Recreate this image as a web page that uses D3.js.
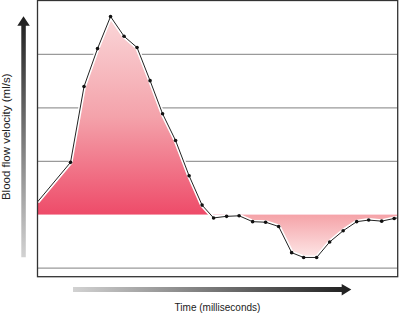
<meta charset="utf-8">
<style>
	body { margin: 0; background: #fff; }
	text { font-family: "Liberation Sans", Arial, sans-serif; fill: #222; }
</style>
<body>
<svg id="svg"></svg>
<script src="https://cdn.jsdelivr.net/npm/d3@7/dist/d3.min.js"></script>
<script>

// DATA (time in ms, velocity in ml/s)
var timeMs = [0, 33, 46.5, 60, 73, 86.5, 99.5, 112.5, 125, 138, 151.5, 164.5, 176, 189, 201.5,
	215, 228, 241, 254, 266, 279, 292, 305.5, 319, 331, 344, 356.5, 360]
var velocity = [0.24, 0.98, 2.40, 3.11, 3.71, 3.34, 3.13, 2.51, 1.89, 1.39, 0.73, 0.18, -0.06, -0.03, -0.02,
	-0.13, -0.14, -0.22, -0.71, -0.80, -0.80, -0.51, -0.30, -0.13, -0.10, -0.12, -0.07, -0.06]
var gridValues = [3, 2, 1, -1]

var points = timeMs.map( ( t, i ) => ({ t: t, v: velocity[ i ] }))

// CANVAS
var width = 399
var height = 314

var svg = d3.select( '#svg' )
	.attr( 'width', width )
	.attr( 'height', height )

var x = d3.scaleLinear().domain([ 0, 360 ]).range([ 37.5, 397.7 ])
var y = d3.scaleLinear().domain([ -1.16, 4.01 ]).range([ 276.7, 0.5 ])

// GRADIENTS
var defs = svg.append( 'defs' )

function gradient( id, x1, y1, x2, y2, stops ){
	var g = defs.append( 'linearGradient' )
		.attr( 'id', id )
		.attr( 'gradientUnits', 'userSpaceOnUse' )
		.attr( 'x1', x1 ).attr( 'y1', y1 )
		.attr( 'x2', x2 ).attr( 'y2', y2 )
	stops.forEach( s => g.append( 'stop' ).attr( 'offset', s[0] ).attr( 'stop-color', s[1] ))
}

gradient( 'posFill', 0, y( 3.7 ), 0, y( 0 ), [[ 0, '#fad6d8' ], [ 0.5, '#f4a3ab' ], [ 1, '#ee4b69' ]])
gradient( 'negFill', 0, y( 0 ), 0, y( -0.8 ), [[ 0, '#f5a3a8' ], [ 1, '#fde7e7' ]])
gradient( 'yArrow', 0, 257, 0, 16, [[ 0, '#d2d2d2' ], [ 1, '#1e1e1e' ]])
gradient( 'xArrow', 73, 0, 351, 0, [[ 0, '#d2d2d2' ], [ 1, '#1e1e1e' ]])

// clip regions above / below zero
defs.append( 'clipPath' ).attr( 'id', 'above' )
	.append( 'rect' ).attr( 'x', x( 0 )).attr( 'y', y.range()[1] )
	.attr( 'width', x( 360 ) - x( 0 )).attr( 'height', y( 0 ) - y.range()[1] )
defs.append( 'clipPath' ).attr( 'id', 'below' )
	.append( 'rect' ).attr( 'x', x( 0 )).attr( 'y', y( 0 ))
	.attr( 'width', x( 360 ) - x( 0 )).attr( 'height', y.range()[0] - y( 0 ))

// GRID
svg.append( 'g' )
	.selectAll( 'line' )
	.data( gridValues )
	.enter()
	.append( 'line' )
		.attr( 'x1', x( 0 ) ).attr( 'x2', x( 360 ))
		.attr( 'y1', d => y( d )).attr( 'y2', d => y( d ))
		.attr( 'stroke', '#9a9a9a' )
		.attr( 'stroke-width', 1.3 )

// AREAS
var area = d3.area()
	.x( d => x( d.t ))
	.y0( y( 0 ))
	.y1( d => y( d.v ))

svg.append( 'path' )
	.attr( 'd', area( points ))
	.attr( 'fill', 'url(#posFill)' )
	.attr( 'clip-path', 'url(#above)' )

svg.append( 'path' )
	.attr( 'd', area( points.slice( 14 )))
	.attr( 'fill', 'url(#negFill)' )
	.attr( 'clip-path', 'url(#below)' )

// LINE (white halo, then black)
var line = d3.line()
	.x( d => x( d.t ))
	.y( d => y( d.v ))

svg.append( 'path' )
	.attr( 'd', line( points ))
	.attr( 'fill', 'none' )
	.attr( 'stroke', '#fff' )
	.attr( 'stroke-width', 4 )
	.attr( 'stroke-linejoin', 'round' )

svg.append( 'path' )
	.attr( 'd', line( points ))
	.attr( 'fill', 'none' )
	.attr( 'stroke', '#222' )
	.attr( 'stroke-width', 1 )

svg.append( 'g' )
	.selectAll( 'circle' )
	.data( points.slice( 1, -1 ))
	.enter()
	.append( 'circle' )
		.attr( 'cx', d => x( d.t ))
		.attr( 'cy', d => y( d.v ))
		.attr( 'r', 1.8 )
		.attr( 'fill', '#111' )

// FRAME
svg.append( 'rect' )
	.attr( 'x', x( 0 )).attr( 'y', y.range()[1] )
	.attr( 'width', x( 360 ) - x( 0 ))
	.attr( 'height', y.range()[0] - y.range()[1] )
	.attr( 'fill', 'none' )
	.attr( 'stroke', '#333' )
	.attr( 'stroke-width', 1.3 )

// ARROWS
svg.append( 'path' )
	.attr( 'd', 'M21.3,257.3 L21.3,25.7 L17.3,25.7 L23.5,16.3 L29.8,25.7 L25.8,25.7 L25.8,257.3 Z' )
	.attr( 'fill', 'url(#yArrow)' )

svg.append( 'path' )
	.attr( 'd', 'M73,287 L341.7,287 L341.7,284 L351.3,289.5 L341.7,295.5 L341.7,292 L73,292 Z' )
	.attr( 'fill', 'url(#xArrow)' )

// LABELS
svg.append( 'text' )
	.attr( 'transform', 'translate(10.2,136.8) rotate(-90)' )
	.attr( 'text-anchor', 'middle' )
	.style( 'font-size', '11.5px' )
	.text( 'Blood flow velocity (ml/s)' )

svg.append( 'text' )
	.attr( 'x', 217.5 )
	.attr( 'y', 310.5 )
	.attr( 'text-anchor', 'middle' )
	.style( 'font-size', '10px' )
	.text( 'Time (milliseconds)' )

</script>
</body>
